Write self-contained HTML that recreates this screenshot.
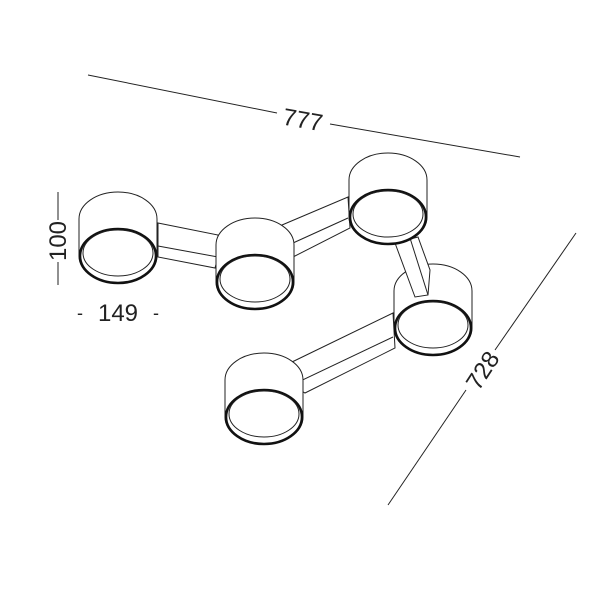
<!DOCTYPE html>
<html><head><style>body{margin:0;background:#fff}svg{display:block}</style></head><body>
<svg width="600" height="600" viewBox="0 0 600 600" xmlns="http://www.w3.org/2000/svg" font-family="'Liberation Sans', Arial, sans-serif">
<g stroke="#222" stroke-width="1" fill="none">
<line x1="88" y1="75" x2="277" y2="113"/>
<line x1="330" y1="124" x2="520" y2="157"/>
<line x1="576" y1="233" x2="495" y2="350"/>
<line x1="466" y1="390" x2="388" y2="505"/>
<line x1="58" y1="192" x2="58" y2="220"/>
<line x1="58" y1="262" x2="58" y2="285"/>
</g>
<text x="303" y="128" font-size="24" text-anchor="middle" transform="rotate(10 303 119)" fill="#222">777</text>
<text x="482" y="379" font-size="24" text-anchor="middle" transform="rotate(-57 482 370)" fill="#222">728</text>
<text x="58" y="249" font-size="24" text-anchor="middle" transform="rotate(-90 58 241)" fill="#222">100</text>
<text x="118" y="321" font-size="24" text-anchor="middle" fill="#222">149</text>
<text x="80" y="319" font-size="18" text-anchor="middle" fill="#222">-</text>
<text x="156" y="319" font-size="18" text-anchor="middle" fill="#222">-</text>
<defs>
<g id="cyl">
<path d="M-39,-37 A39 27 0 0 1 39,-37 L39,0 A39 27 0 0 1 -39,0 Z" fill="#fff" stroke="#222" stroke-width="1"/>
<ellipse cx="0" cy="0" rx="38" ry="27" fill="#fff" stroke="#111" stroke-width="2.6"/>
<ellipse cx="0" cy="-3" rx="35" ry="23" fill="none" stroke="#222" stroke-width="1"/>
</g>
</defs>
<g stroke="#222" stroke-width="1" fill="#fff">
<polygon points="158,223 218,235 218,257 215,268 158,257"/>
<line x1="158" y1="246" x2="218" y2="257"/>
<polygon points="282,225 348,197 350,228 293,257 282,248"/>
<line x1="282" y1="248" x2="348" y2="218"/>
<polygon points="393,313 292,362 292,385 305,393 395,348"/>
<line x1="393" y1="337" x2="292" y2="385"/>
</g>
<use href="#cyl" x="433" y="328"/>
<g stroke="#222" stroke-width="1" fill="#fff">
<polygon points="395,243 415,297 428,295 430,270 418,237"/>
<line x1="410" y1="238" x2="428" y2="295"/>
</g>
<use href="#cyl" x="118" y="256"/>
<use href="#cyl" x="255" y="282"/>
<use href="#cyl" x="388" y="217"/>
<use href="#cyl" x="264" y="417"/>
</svg>
</body></html>
